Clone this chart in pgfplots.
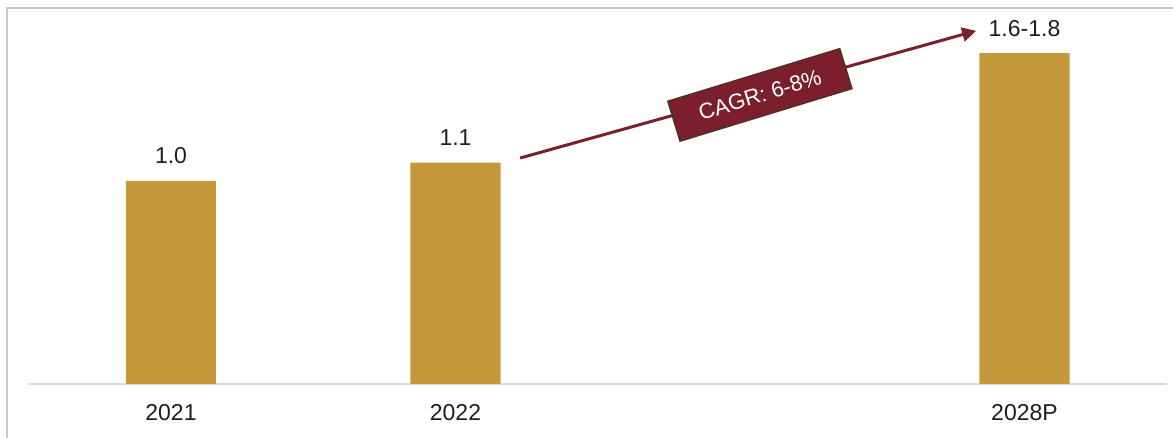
\documentclass[border=0pt]{standalone}
\usepackage{pgfplots}
\pgfplotsset{compat=1.18}
\usepackage{fontspec}
\setmainfont{Liberation Sans}
\usetikzlibrary{arrows.meta}
\definecolor{bargold}{HTML}{C5993B}
\definecolor{maroon}{HTML}{7A1F2B}
\definecolor{boxedge}{HTML}{4A3320}
\definecolor{txt}{HTML}{1E1E1E}
\definecolor{framegray}{HTML}{C8C8C8}
\definecolor{basegray}{HTML}{D9D9D9}
\begin{document}
\begin{tikzpicture}
\path[use as bounding box] (0,0) rectangle (586.5pt,219pt);
\fill[white] (0,0) rectangle (586.5pt,219pt);
\draw[framegray, line width=0.9pt] (3.5pt,-2pt) -- (3.5pt,215pt) -- (590pt,215pt);
\begin{axis}[
  at={(14.375pt,27pt)}, anchor=south west,
  scale only axis, width=569pt, height=203pt,
  xmin=-0.5, xmax=3.5, ymin=0, ymax=2,
  axis y line=none,
  axis x line*=bottom,
  x axis line style={draw=basegray, line width=0.9pt, -},
  xtick={0,1,3}, xticklabels={2021,2022,2028P},
  major tick length=0pt,
  xticklabel style={font=\fontsize{11.5}{13}\selectfont, text=txt, anchor=center, yshift=-14.5pt},
  clip=false,
]
\addplot[ybar, bar width=45pt, fill=bargold, draw=none,
  nodes near coords, point meta=explicit symbolic,
  every node near coord/.append style={font=\fontsize{11.5}{13}\selectfont, text=txt, anchor=center, yshift=12.5pt}]
  table[meta=label, row sep=\\] {
  x y label\\
  0 1.00 1.0\\
  1 1.09 1.1\\
  3 1.63 1.6-1.8\\
};
\draw[maroon, line width=1.5pt, -{Triangle[length=7pt,width=7pt]}] (axis cs:1.227,1.113) -- (axis cs:2.83,1.74);
\node[rotate=17, fill=maroon, draw=boxedge, line width=0.6pt, minimum width=90pt, minimum height=21pt, inner sep=0pt, text=white, font=\fontsize{11}{12}\selectfont] at (axis cs:2.07,1.424) {CAGR: 6-8\%};
\end{axis}
\end{tikzpicture}
\end{document}
